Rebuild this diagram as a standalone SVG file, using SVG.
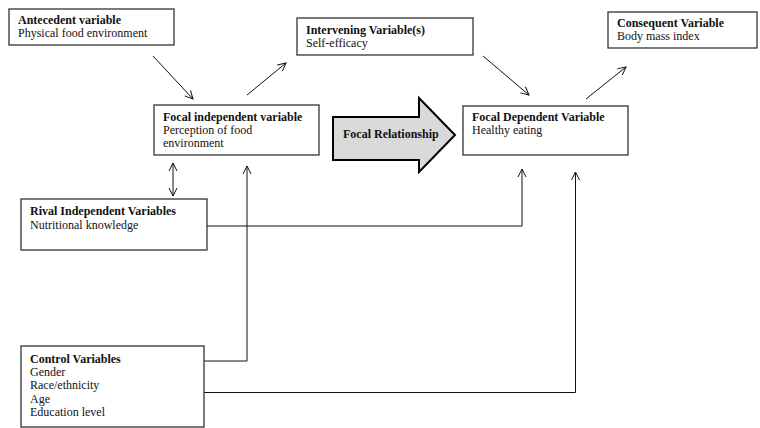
<svg xmlns="http://www.w3.org/2000/svg" width="760" height="428" viewBox="0 0 760 428">
<style>
.box{fill:#fff;stroke:#333;stroke-width:1.3}
.t{font-family:'Liberation Serif','DejaVu Serif',serif;font-size:12px;fill:#111}
.b{font-weight:bold}
.c{fill:none;stroke:#111;stroke-width:1}
</style>
<defs>
<marker id="ah" markerUnits="userSpaceOnUse" markerWidth="12" markerHeight="12" viewBox="0 0 12 12" refX="10" refY="6" orient="auto-start-reverse">
<path d="M2,2 L10,6 L2,10" fill="none" stroke="#111" stroke-width="1"/>
</marker>
</defs>
<rect width="760" height="428" fill="#fff"/>
<g id="connectors">
<line class="c" x1="153" y1="56" x2="193" y2="99" marker-end="url(#ah)"/>
<line class="c" x1="247" y1="95" x2="286" y2="63" marker-end="url(#ah)"/>
<line class="c" x1="483" y1="56" x2="529" y2="95" marker-end="url(#ah)"/>
<line class="c" x1="586" y1="99" x2="626" y2="67" marker-end="url(#ah)"/>
<line class="c" x1="173" y1="163" x2="173" y2="196" marker-start="url(#ah)" marker-end="url(#ah)"/>
<path class="c" d="M204,361 H247 V166" marker-end="url(#ah)"/>
<path class="c" d="M207,226 H522 V169" marker-end="url(#ah)"/>
<path class="c" d="M204,392.5 H575.5 V172" marker-end="url(#ah)"/>
</g>
<g id="focal-relationship">
<path d="M333,117 H419 V98 L455,135 L419,172 V160 H333 Z" fill="#d9d9d9" stroke="#000" stroke-width="2" stroke-linejoin="miter"/>
<text class="t b" x="343" y="138">Focal Relationship</text>
</g>
<g id="antecedent">
<rect class="box" x="9" y="9" width="165" height="36"/>
<text class="t b" x="18" y="24">Antecedent variable</text>
<text class="t" x="18" y="37">Physical food environment</text>
</g>
<g id="intervening">
<rect class="box" x="297" y="18" width="176" height="37"/>
<text class="t b" x="306" y="34">Intervening Variable(s)</text>
<text class="t" x="306" y="47">Self-efficacy</text>
</g>
<g id="consequent">
<rect class="box" x="608" y="12" width="149" height="36"/>
<text class="t b" x="617" y="27">Consequent Variable</text>
<text class="t" x="617" y="40">Body mass index</text>
</g>
<g id="focal-independent">
<rect class="box" x="154" y="105" width="165" height="50"/>
<text class="t b" x="163" y="121">Focal independent variable</text>
<text class="t" x="163" y="134">Perception of food</text>
<text class="t" x="163" y="147">environment</text>
</g>
<g id="focal-dependent">
<rect class="box" x="463" y="106" width="165" height="49"/>
<text class="t b" x="472" y="121">Focal Dependent Variable</text>
<text class="t" x="472" y="134">Healthy eating</text>
</g>
<g id="rival">
<rect class="box" x="21" y="199" width="186" height="51"/>
<text class="t b" x="30" y="215">Rival Independent Variables</text>
<text class="t" x="30" y="229">Nutritional knowledge</text>
</g>
<g id="control">
<rect class="box" x="21" y="346" width="183" height="81"/>
<text class="t b" x="30" y="363">Control Variables</text>
<text class="t" x="30" y="376">Gender</text>
<text class="t" x="30" y="389">Race/ethnicity</text>
<text class="t" x="30" y="403">Age</text>
<text class="t" x="30" y="416">Education level</text>
</g>
</svg>
